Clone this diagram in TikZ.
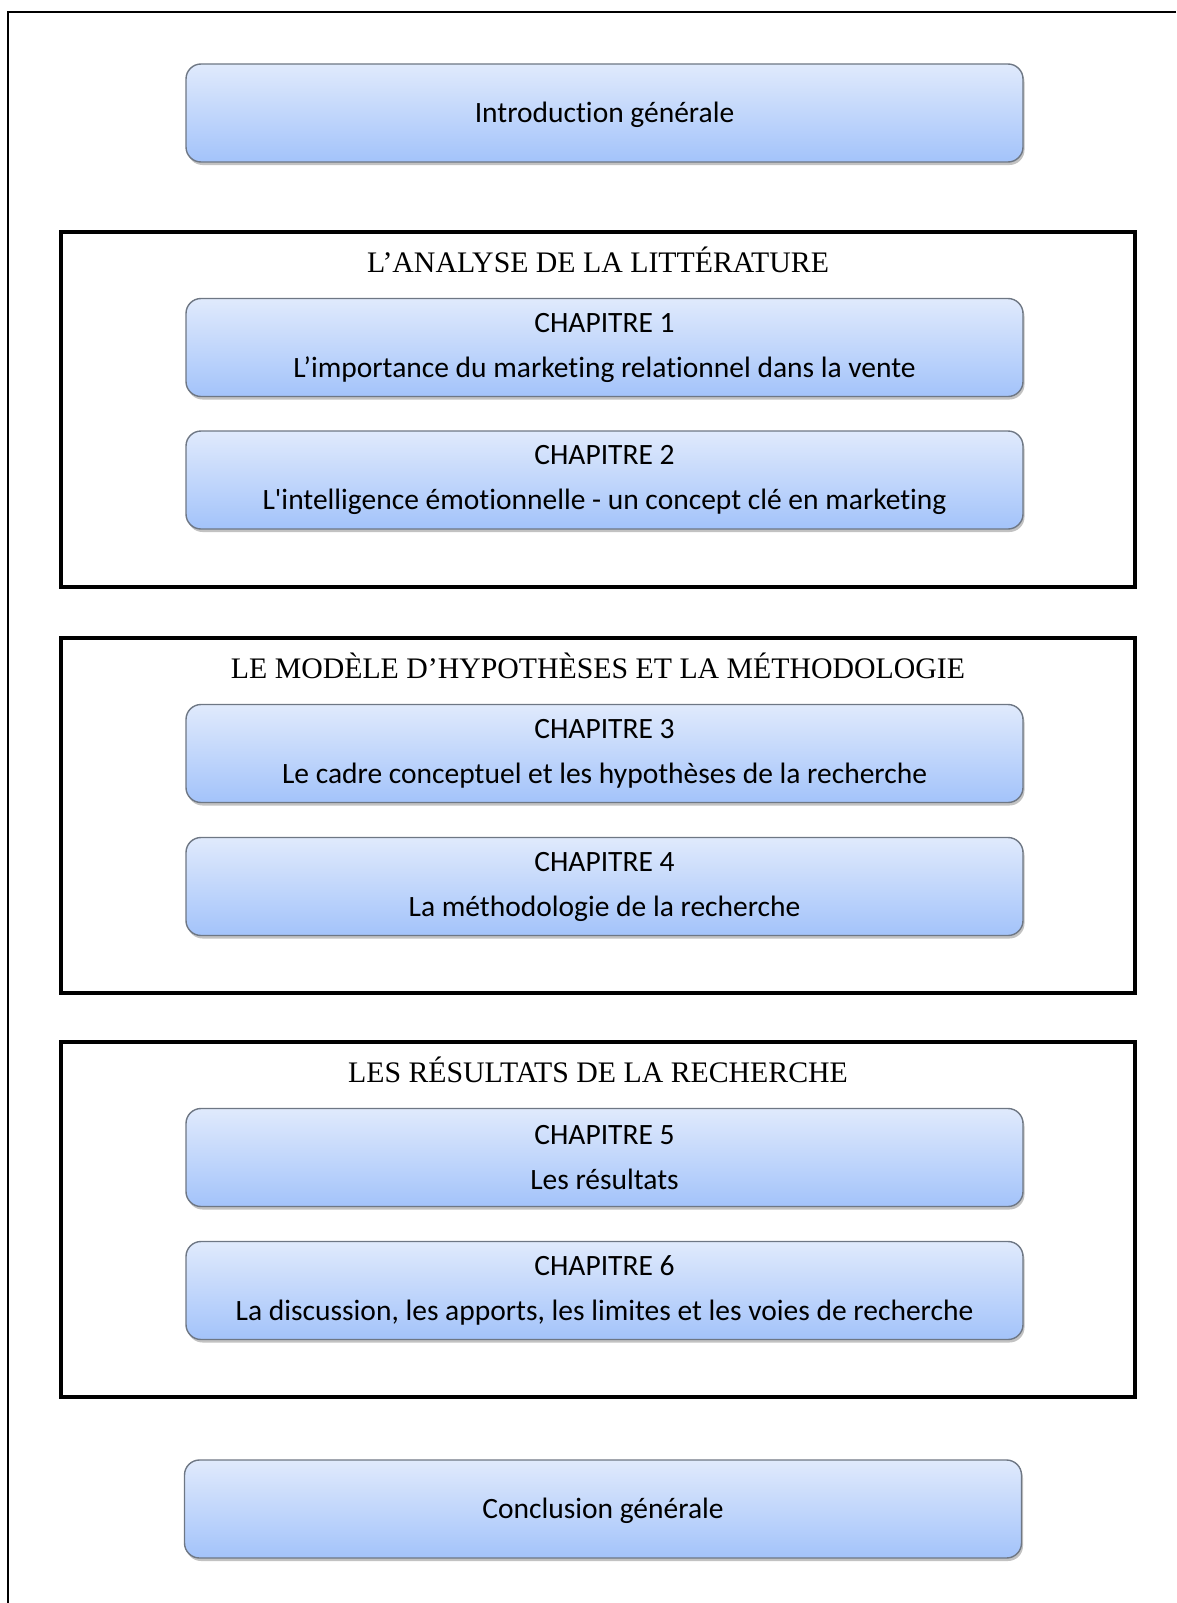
\documentclass[tikz,border=0pt]{standalone}
\usepackage{fontspec}
\setmainfont{Liberation Serif}
\newfontfamily\boxfont[Ligatures=NoCommon]{Carlito}
\newfontfamily\headfont{Liberation Serif}
\usepackage{tikz}
\usetikzlibrary{positioning,shadows,calc}
\definecolor{boxtop}{HTML}{E0EAFC}
\definecolor{boxbot}{HTML}{A3C3FA}
\definecolor{boxline}{HTML}{6E7784}
\tikzset{chapbox/.style={rounded corners=15pt,draw=boxline,line width=1.4pt,
    top color=boxtop,bottom color=boxbot,minimum width=837pt,minimum height=98pt,
    inner sep=0pt,align=center,font=\boxfont\fontsize{29.5}{45}\selectfont,
    drop shadow={shadow xshift=1.5pt,shadow yshift=-3pt,opacity=0.4,fill=black!60}}}
\tikzset{cadre/.style={draw=black,line width=3.5pt,minimum width=1074pt,minimum height=355pt,inner sep=0pt}}
\tikzset{titre/.style={font=\headfont\fontsize{29.8}{34}\selectfont,anchor=base,inner sep=0pt}}
\begin{document}
\begin{tikzpicture}[x=1pt,y=-1pt]
  \useasboundingbox (0,0) rectangle (1176,1603);
  % page frame
  \draw[line width=2pt] (1176,12) -- (8,12) -- (8,1603);
  \node[chapbox] (intro) at (604.5,113) {\strut Introduction générale};
  % partie 1
  \node[cadre] (partA) at (598,409.5) {};
  \node[titre] (titreA) at ([yshift=-42pt]partA.north) {L’ANALYSE DE LA LITTÉRATURE};
  \node[chapbox] (chap1) at (604.5,347.5) {CHAPITRE 1\\L’importance du marketing relationnel dans la vente};
  \node[chapbox] (chap2) at (604.5,480) {CHAPITRE 2\\L'intelligence émotionnelle - un concept clé en marketing};
  % partie 2
  \node[cadre] (partB) at (598,815.5) {};
  \node[titre] (titreB) at ([yshift=-42pt]partB.north) {LE MODÈLE D’HYPOTHÈSES ET LA MÉTHODOLOGIE};
  \node[chapbox] (chap3) at (604.5,753.5) {CHAPITRE 3\\Le cadre conceptuel et les hypothèses de la recherche};
  \node[chapbox] (chap4) at (604.5,886.5) {CHAPITRE 4\\La méthodologie de la recherche};
  % partie 3
  \node[cadre] (partC) at (598,1219.5) {};
  \node[titre] (titreC) at ([yshift=-42pt]partC.north) {LES RÉSULTATS DE LA RECHERCHE};
  \node[chapbox] (chap5) at (604.5,1157.5) {CHAPITRE 5\\Les résultats};
  \node[chapbox] (chap6) at (604.5,1290.5) {CHAPITRE 6\\La discussion, les apports, les limites et les voies de recherche};
  \node[chapbox] (concl) at (603,1509) {\strut Conclusion générale};
\end{tikzpicture}
\end{document}
